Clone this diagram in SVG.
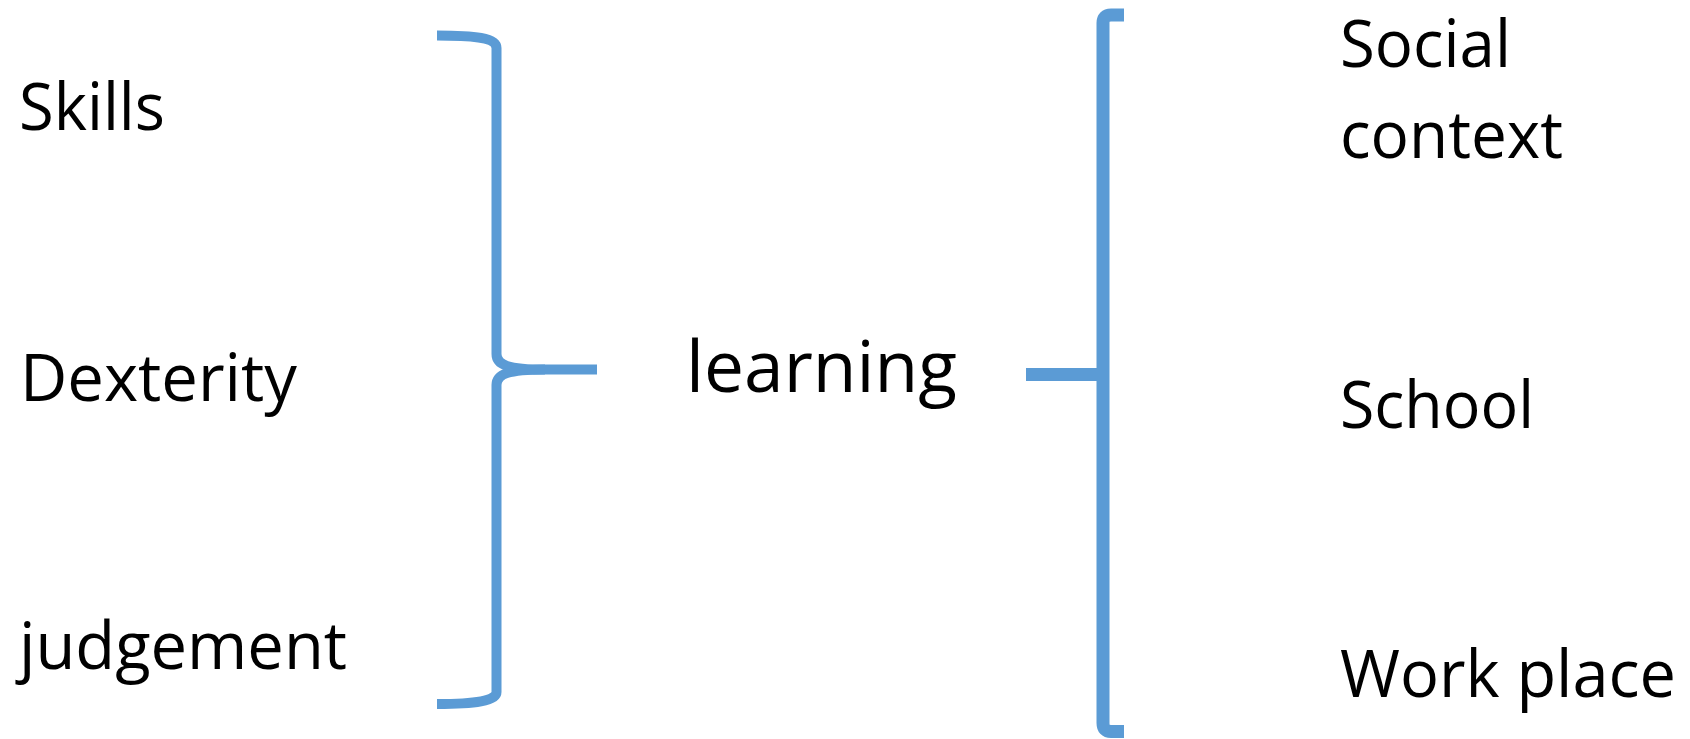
<svg xmlns="http://www.w3.org/2000/svg" width="1690" height="739" viewBox="0 0 1690 739">
<style>
.t{font-family:"Open Sans","Noto Sans","Liberation Sans",sans-serif;font-size:66px;fill:#000}
.b{fill:none;stroke:#5B9BD5;stroke-linecap:butt;stroke-linejoin:round}
</style>
<rect width="1690" height="739" fill="#fff"/>
<g id="connectors">
<path class="b" stroke-width="10" d="M437,35.5 C475,35.5 496.5,38 496.5,48 L496.5,354 C496.5,365 508,369.5 545,369.5 L597,369.5"/>
<path class="b" stroke-width="10" d="M545,369.5 C508,369.5 496.5,374 496.5,385 L496.5,692 C496.5,701 475,704 437,704"/>
<path class="b" stroke-width="13" d="M1124,15 L1111,15 Q1103,15 1103,23 L1103,723 Q1103,731.5 1111,731.5 L1124,731.5"/>
<path class="b" stroke-width="13" d="M1026,374.5 L1103,374.5"/>
</g>
<g id="skills"><text class="t" x="19" y="130" textLength="146" lengthAdjust="spacingAndGlyphs">Skills</text></g>
<g id="dexterity"><text class="t" x="20" y="401" textLength="277" lengthAdjust="spacingAndGlyphs">Dexterity</text></g>
<g id="judgement"><text class="t" x="19" y="669" textLength="328" lengthAdjust="spacingAndGlyphs">judgement</text></g>
<g id="learning"><text class="t" x="686" y="392" style="font-size:71px" textLength="271" lengthAdjust="spacingAndGlyphs">learning</text></g>
<g id="social"><text class="t" x="1340" y="67" textLength="171" lengthAdjust="spacingAndGlyphs">Social</text>
<text class="t" x="1340" y="158" textLength="223" lengthAdjust="spacingAndGlyphs">context</text></g>
<g id="school"><text class="t" x="1340" y="428" textLength="194" lengthAdjust="spacingAndGlyphs">School</text></g>
<g id="workplace"><text class="t" x="1340" y="697" textLength="336" lengthAdjust="spacingAndGlyphs">Work place</text></g>
</svg>
